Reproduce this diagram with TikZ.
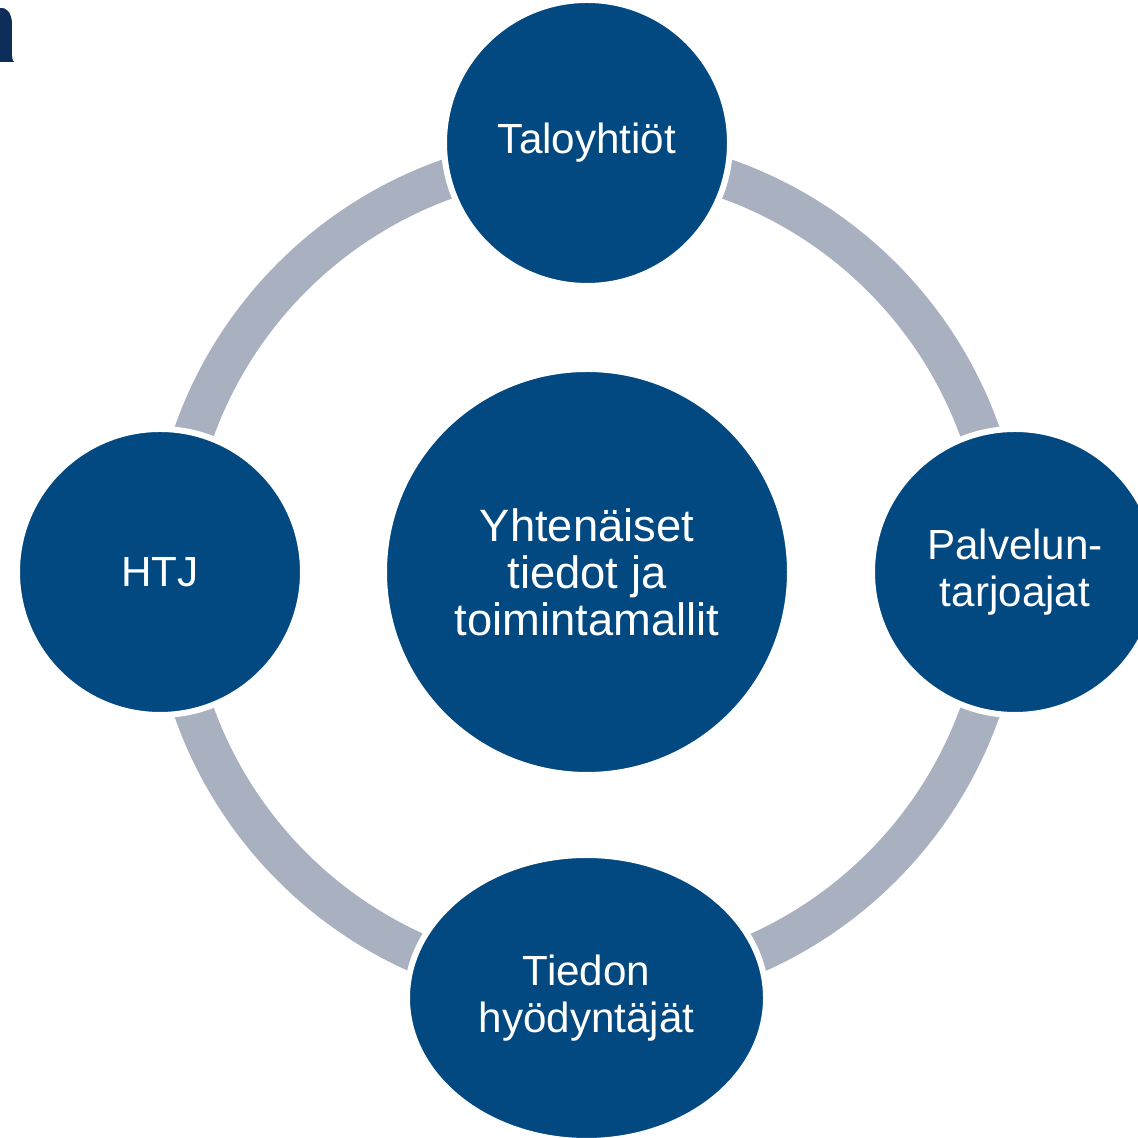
\documentclass[tikz,border=0pt]{standalone}
\usepackage{fontspec}
\setmainfont{Liberation Sans}
\usetikzlibrary{shapes.geometric}
\definecolor{discblue}{RGB}{3,73,129}
\definecolor{ringgray}{RGB}{169,176,192}
\definecolor{cornernavy}{RGB}{12,46,88}

\tikzset{
    disc/.style={circle, fill=discblue, draw=white, line width=0.06cm, text=white, align=center,
        minimum size=2.86cm, inner sep=0pt, font=\fontsize{12.0}{13.2}\selectfont},
    hubdisc/.style={disc, minimum size=4.06cm, font=\fontsize{12.9}{13.4}\selectfont},
    ringline/.style={draw=ringgray, line width=0.40cm}
}

\begin{document}
\begin{tikzpicture}
        \useasboundingbox (0,0) rectangle (11.37,11.38);

        % corner fragment
        \fill [cornernavy] (0,11.30) .. controls (0.06,11.31) and (0.11,11.26) .. (0.12,11.16) -- (0.12,10.82)
            .. controls (0.12,10.79) and (0.13,10.77) .. (0.14,10.76) -- (0,10.76) -- cycle;

        % ring
        \coordinate (mid) at (5.87,5.66);
        \draw [ringline] (mid) circle (4.17);

        % discs
        \node [hubdisc] (hub) at (mid) {Yhtenäiset\\tiedot ja\\toimintamallit};
        \node [disc] (taloyhtiot) at (5.87,9.95) {Taloyhtiöt};
        \node [disc] (palvelu) at (10.15,5.66) {Palvelun-\\tarjoajat};
        \node [disc] (htj) at (1.60,5.66) {HTJ};
        \node [disc, ellipse, minimum width=3.59cm, minimum height=2.86cm] (hyodyntajat) at (5.865,1.40) {Tiedon\\hyödyntäjät};
\end{tikzpicture}
\end{document}
